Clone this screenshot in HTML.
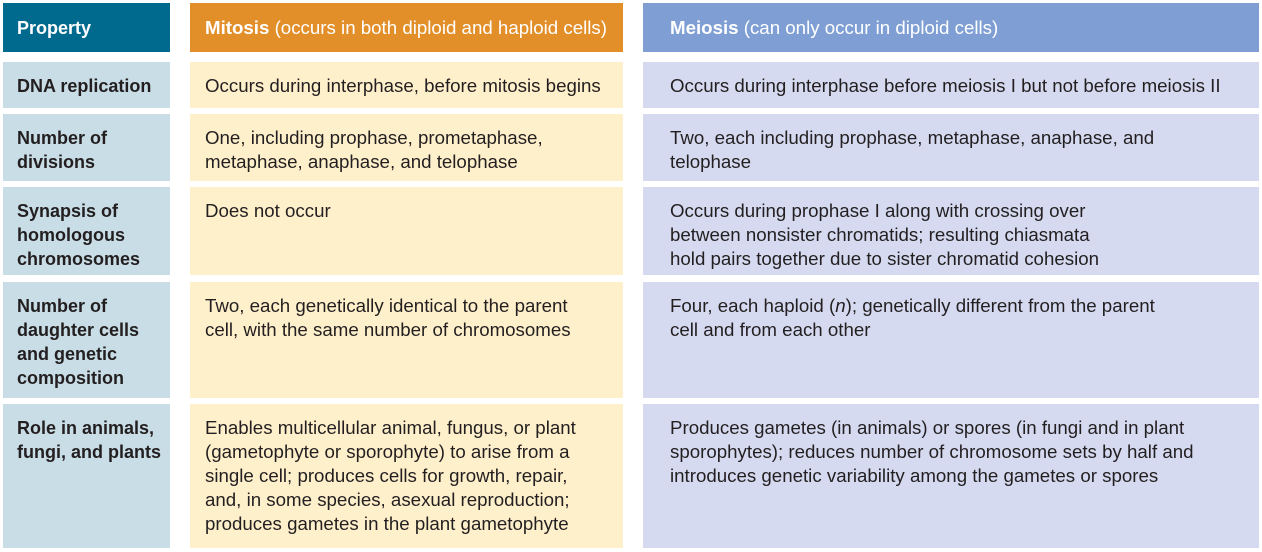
<!DOCTYPE html>
<html><head><meta charset="utf-8"><style>
body{margin:0;width:1262px;height:552px;background:#fff;overflow:hidden;position:relative;font-family:"Liberation Sans",sans-serif;font-size:18.7px;color:#231f20}
.c{position:absolute;box-sizing:border-box;padding:12px 0 0 15px;line-height:24px}
.p{background:#c9dde6;font-weight:bold;left:3px;width:167px;font-size:18px;padding-left:14px}
.m{background:#fff0cc;left:190px;width:433px}
.e{background:#d5daf0;left:643px;width:616px;padding-left:27px}
.h{color:#fff;top:3px;height:49px;padding-top:13px}
</style></head><body>
<div class="c h" style="left:3px;width:167px;background:#006a8e;font-weight:bold;font-size:18px;padding-left:14px">Property</div>
<div class="c h" style="left:190px;width:433px;background:#e38f29"><b>Mitosis</b> (occurs in both diploid and haploid cells)</div>
<div class="c h" style="left:643px;width:616px;background:#7f9fd4;padding-left:27px"><b>Meiosis</b> (can only occur in diploid cells)</div>

<div class="c p" style="top:62px;height:46px">DNA replication</div>
<div class="c m" style="top:62px;height:46px">Occurs during interphase, before mitosis begins</div>
<div class="c e" style="top:62px;height:46px">Occurs during interphase before meiosis I but not before meiosis II</div>

<div class="c p" style="top:114px;height:67px">Number of<br>divisions</div>
<div class="c m" style="top:114px;height:67px">One, including prophase, prometaphase,<br>metaphase, anaphase, and telophase</div>
<div class="c e" style="top:114px;height:67px">Two, each including prophase, metaphase, anaphase, and<br>telophase</div>

<div class="c p" style="top:187px;height:88px">Synapsis of<br>homologous<br>chromosomes</div>
<div class="c m" style="top:187px;height:88px">Does not occur</div>
<div class="c e" style="top:187px;height:88px">Occurs during prophase I along with crossing over<br>between nonsister chromatids; resulting chiasmata<br>hold pairs together due to sister chromatid cohesion</div>

<div class="c p" style="top:282px;height:116px">Number of<br>daughter cells<br>and genetic<br>composition</div>
<div class="c m" style="top:282px;height:116px">Two, each genetically identical to the parent<br>cell, with the same number of chromosomes</div>
<div class="c e" style="top:282px;height:116px">Four, each haploid (<i>n</i>); genetically different from the parent<br>cell and from each other</div>

<div class="c p" style="top:404px;height:144px">Role in animals,<br>fungi, and plants</div>
<div class="c m" style="top:404px;height:144px">Enables multicellular animal, fungus, or plant<br>(gametophyte or sporophyte) to arise from a<br>single cell; produces cells for growth, repair,<br>and, in some species, asexual reproduction;<br>produces gametes in the plant gametophyte</div>
<div class="c e" style="top:404px;height:144px">Produces gametes (in animals) or spores (in fungi and in plant<br>sporophytes); reduces number of chromosome sets by half and<br>introduces genetic variability among the gametes or spores</div>
</body></html>
